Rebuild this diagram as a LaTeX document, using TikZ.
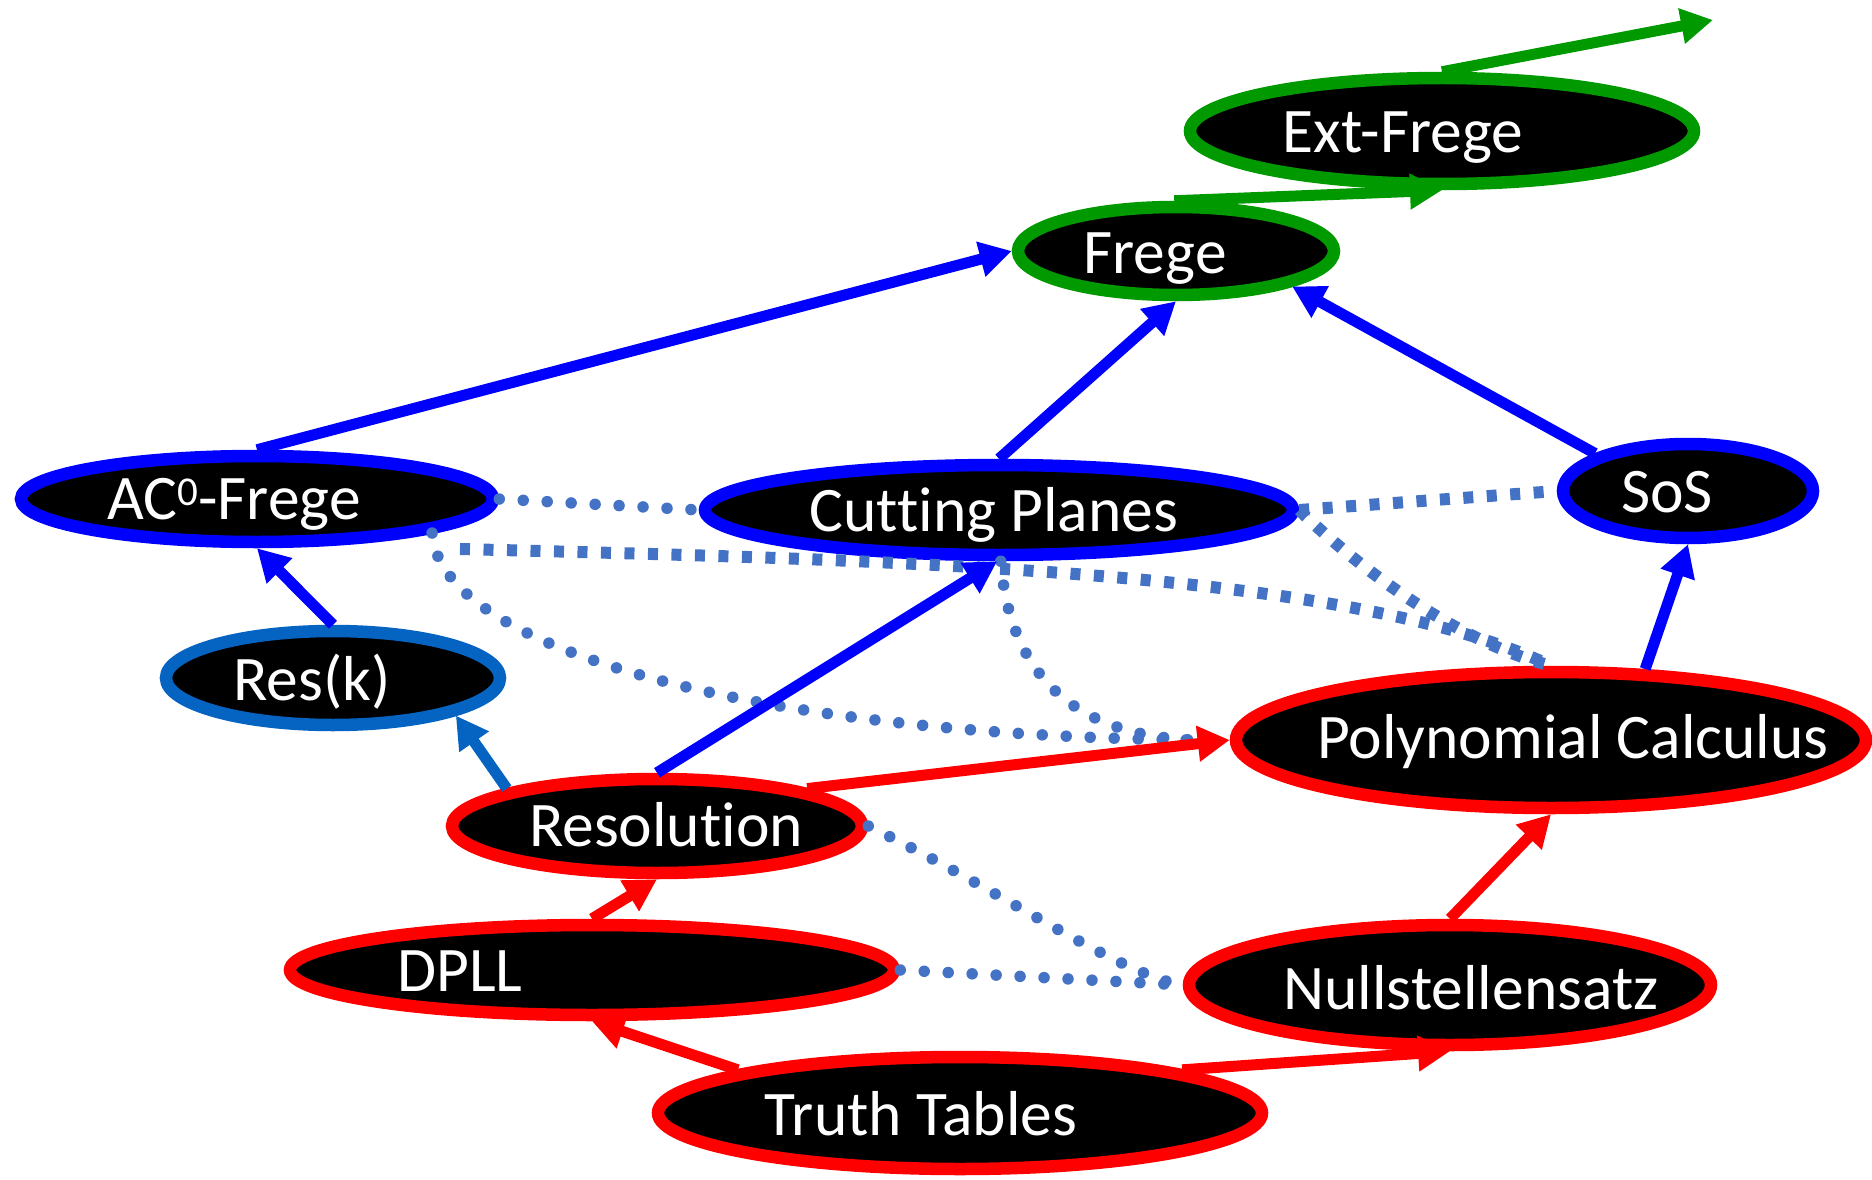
\documentclass[tikz,border=0pt]{standalone}
\usepackage{fontspec}
\setmainfont{Carlito}[Ligatures=NoCommon]
\usetikzlibrary{arrows.meta,shapes.geometric}
\definecolor{pgreen}{RGB}{0,153,0}
\definecolor{pblue}{RGB}{0,0,255}
\definecolor{pmid}{RGB}{5,99,193}
\definecolor{pred}{RGB}{255,0,0}
\definecolor{pdot}{RGB}{68,114,196}
\newcommand{\supzero}{\raisebox{14pt}{\fontsize{41}{41}\selectfont 0}}

\begin{document}
\begin{tikzpicture}[x=1pt,y=-1pt,
  sys/.style={ellipse, draw, fill=black, line width=12.5pt, inner sep=0pt},
  lbl/.style={text=white, font=\fontsize{63.5}{70}\selectfont, anchor=base, inner sep=0pt},
  imp/.style={line width=11pt, -{Triangle[length=32pt,width=34pt]}},
  dotlink/.style={pdot, line width=11.5pt, line cap=round, dash pattern=on 0pt off 24pt},
  sqlink/.style={pdot, line width=12pt, dash pattern=on 10pt off 13.5pt},
]
\useasboundingbox (0,0) rectangle (1872,1180);

% proof systems
\node[sys, draw=pgreen, minimum width=504pt, minimum height=106pt] (ext)   at (1442,131) {};
\node[sys, draw=pgreen, minimum width=316pt, minimum height=88pt]  (frege) at (1176,251) {};
\node[sys, draw=pblue,  minimum width=472pt, minimum height=86pt]  (ac0)   at (257,499) {};
\node[sys, draw=pblue,  minimum width=588pt, minimum height=90pt]  (cp)    at (999,510) {};
\node[sys, draw=pblue,  minimum width=250pt, minimum height=94pt]  (sos)   at (1688,491) {};
\node[sys, draw=pmid,   minimum width=334pt, minimum height=94pt]  (resk)  at (333,678) {};
\node[sys, draw=pred,   minimum width=630pt, minimum height=136pt] (pc)    at (1551,740) {};
\node[sys, draw=pred,   minimum width=410pt, minimum height=94pt]  (res)   at (657,826) {};
\node[sys, draw=pred,   minimum width=604pt, minimum height=90pt]  (dpll)  at (592,970) {};
\node[sys, draw=pred,   minimum width=522pt, minimum height=120pt] (null)  at (1450,985) {};
\node[sys, draw=pred,   minimum width=604pt, minimum height=112pt] (tt)    at (960,1113) {};

% names
\node[lbl] (extT)   at (1403,153)  {Ext-Frege};
\node[lbl] (fregeT) at (1155,273)  {Frege};
\node[lbl] (ac0T)   at (234,519)   {AC\supzero-Frege};
\node[lbl] (cpT)    at (994,531)   {Cutting Planes};
\node[lbl] (sosT)   at (1667,512)  {SoS};
\node[lbl] (reskT)  at (312,700)   {Res(k)};
\node[lbl] (pcT)    at (1573,758)  {Polynomial Calculus};
\node[lbl] (resT)   at (666,846)   {Resolution};
\node[lbl] (dpllT)  at (460,991)   {DPLL};
\node[lbl] (nullT)  at (1471,1009) {Nullstellensatz};
\node[lbl] (ttT)    at (921,1135)  {Truth Tables};

\coordinate (beyond) at (1713,20);
\coordinate (acstart) at (460,549);

% non-simulation links
\draw[dotlink] (ac0.0) -- (cp.180);
\draw[dotlink] (ac0.349) .. controls (440,650) and (760,735) .. ([xshift=-38pt]pc.180);
\draw[dotlink] (cp.272) .. controls (1010,680) and (1080,735) .. ([xshift=-38pt]pc.180);
\draw[dotlink] (res.0) .. controls (1000,890) and (1120,975) .. (null.180);
\draw[dotlink] (dpll.0) -- (null.180);
\draw[sqlink] (cp.0) -- (sos.180);
\draw[sqlink] (cp.0) .. controls (1350,560) and (1450,640) .. (pc.90);
\draw[sqlink] (acstart) .. controls (900,560) and (1350,570) .. (pc.90);

% simulations
\draw[imp, pgreen] (frege.92) -- (ext.270);
\draw[imp, pgreen] (ext.90) -- (beyond);
\draw[imp, pblue] (ac0.90) -- (frege.180);
\draw[imp, pblue] (cp.90) -- (frege.270);
\draw[imp, pblue] (sos.158) -- (frege.343);
\draw[imp, pblue] (resk.90) -- (ac0.270);
\draw[imp, pblue] (res.90) -- (cp.268);
\draw[imp, pblue] (pc.37) -- (sos.270);
\draw[imp, pmid] (res.166) -- (resk.343);
\draw[imp, pred] (res.14) -- (pc.180);
\draw[imp, pred] (dpll.90) -- (res.270);
\draw[imp, pred] (tt.169) -- (dpll.270);
\draw[imp, pred] (tt.11) -- (null.270);
\draw[imp, pred] (null.90) -- (pc.270);
\end{tikzpicture}
\end{document}
